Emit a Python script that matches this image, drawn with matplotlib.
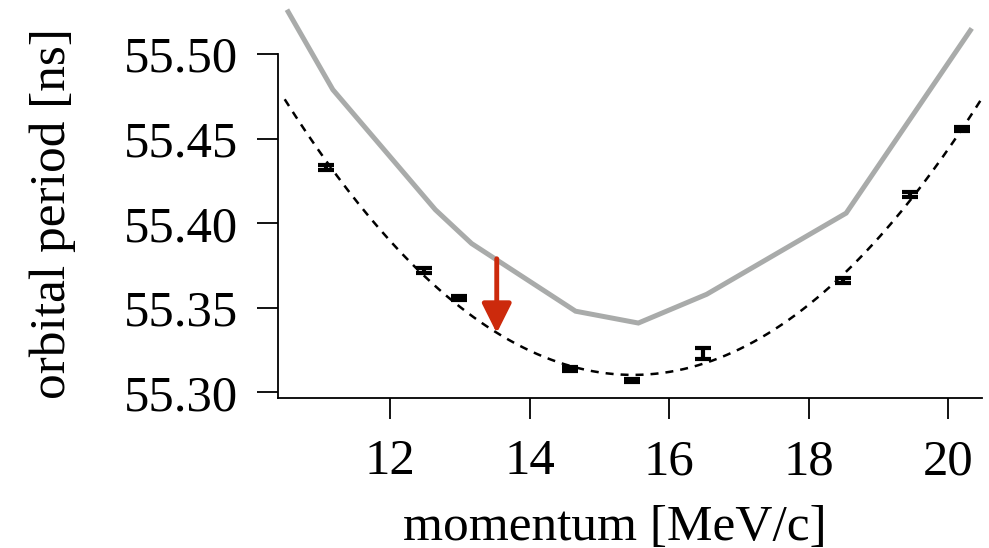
import numpy as np
import matplotlib.pyplot as plt

# measured orbital period vs momentum
momentum = [11.08, 12.48, 12.99, 14.58, 15.47, 16.49, 18.49, 19.46, 20.20]
period = [55.433, 55.372, 55.356, 55.314, 55.307, 55.323, 55.366, 55.417, 55.4555]
period_err = [0.0015, 0.0015, 0.0012, 0.0012, 0.0010, 0.0035, 0.0015, 0.0015, 0.0012]

# simulation (grey line)
sim_momentum = [10.54, 11.18, 12.65, 13.17, 14.66, 15.56, 16.54, 18.54, 20.32]
sim_period = [55.525, 55.479, 55.408, 55.388, 55.348, 55.341, 55.358, 55.406, 55.514]

# red arrow (shift from simulation to data)
arrow_x = 13.53
arrow_from = 55.379
arrow_to = 55.335

fit_range = [10.49, 20.48]

plt.rcParams['font.family'] = ['Liberation Serif', 'DejaVu Serif']

fig = plt.figure(figsize=(9.89, 5.48), dpi=100)
ax = fig.add_axes([278 / 989, 1 - 398.3 / 548, (982 - 278) / 989, 398.3 / 548])

# grey simulation curve
ax.plot(sim_momentum, sim_period, color='#a9abaa', lw=3.6, solid_joinstyle='miter',
        zorder=2, clip_on=False)

# quadratic fit to the data, dashed
coef = np.polyfit(momentum, period, 2, w=1 / np.array(period_err) ** 0.5)
xf = np.linspace(fit_range[0], fit_range[1], 200)
ax.plot(xf, np.polyval(coef, xf), color='black', lw=1.8, ls=(0, (3.2, 2.8)), zorder=3)

# data with error bars
ax.errorbar(momentum, period, yerr=period_err, fmt='none', ecolor='black',
            elinewidth=3, capsize=5.5, capthick=3, zorder=4)

ax.annotate('', xy=(arrow_x, arrow_to), xytext=(arrow_x, arrow_from),
            arrowprops=dict(arrowstyle='-|>,head_length=0.9,head_width=0.45',
                            color='#cc2a0c', lw=3.5, mutation_scale=20,
                            shrinkA=0, shrinkB=0), zorder=5)

ax.set_xlim(10.394, 20.487)
ax.set_ylim(55.2965, 55.532)
ax.set_xticks([12, 14, 16, 18, 20])
ax.set_yticks([55.30, 55.35, 55.40, 55.45, 55.50])
ax.set_yticklabels(['%.2f' % v for v in [55.30, 55.35, 55.40, 55.45, 55.50]])

for s in ['top', 'right']:
    ax.spines[s].set_visible(False)
ax.spines['left'].set_bounds(55.2965, 55.50)
for s in ['left', 'bottom']:
    ax.spines[s].set_linewidth(1.3)

ax.tick_params(direction='out', length=15, width=1.3, labelsize=36.5, pad=14)

ax.set_xlabel('momentum [MeV/c]', fontsize=37, labelpad=14)
ax.xaxis.label.set_x(0.479)
ax.set_ylabel('orbital period [ns]', fontsize=37)
ax.yaxis.set_label_coords(-0.287, 0.465)

fig.savefig('out.png', dpi=100)
